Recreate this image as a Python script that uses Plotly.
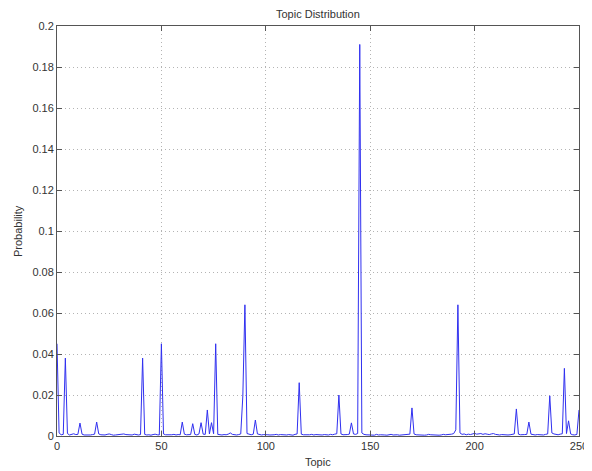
import plotly.graph_objects as go

topics = list(range(0, 251))
probability = [
    0.045, 0.0015, 0.0006, 0.0008, 0.038, 0.0012, 0.0005, 0.0009, 0.0011, 0.0007,
    0.0008, 0.0063, 0.0009, 0.0005, 0.0004, 0.0006, 0.0005, 0.0007, 0.0009, 0.0068,
    0.0010, 0.0006, 0.0004, 0.0005, 0.0008, 0.0010, 0.0007, 0.0004, 0.0005, 0.0006,
    0.0005, 0.0008, 0.0010, 0.0007, 0.0006, 0.0004, 0.0005, 0.0009, 0.0006, 0.0005,
    0.0007, 0.038, 0.0008, 0.0005, 0.0006, 0.0004, 0.0007, 0.0009, 0.0006, 0.0005,
    0.045, 0.0010, 0.0006, 0.0005, 0.0004, 0.0006, 0.0008, 0.0005, 0.0007, 0.0006,
    0.0068, 0.0009, 0.0006, 0.0005, 0.0007, 0.0060, 0.0008, 0.0005, 0.0010, 0.0065,
    0.0009, 0.0008, 0.0127, 0.0010, 0.0065, 0.0011, 0.045, 0.0008, 0.0006, 0.0005,
    0.0007, 0.0006, 0.0009, 0.0015, 0.0008, 0.0006, 0.0005, 0.0007, 0.0010, 0.0195,
    0.064, 0.0012, 0.0007, 0.0006, 0.0009, 0.0078, 0.0010, 0.0006, 0.0005, 0.0007,
    0.0008, 0.0006, 0.0005, 0.0004, 0.0006, 0.0008, 0.0005, 0.0007, 0.0006, 0.0004,
    0.0005, 0.0007, 0.0006, 0.0004, 0.0008, 0.0010, 0.026, 0.0009, 0.0006, 0.0005,
    0.0004, 0.0006, 0.0008, 0.0005, 0.0007, 0.0006, 0.0004, 0.0005, 0.0007, 0.0006,
    0.0005, 0.0008, 0.0006, 0.0009, 0.0011, 0.020, 0.0010, 0.0006, 0.0005, 0.0007,
    0.0009, 0.0064, 0.0010, 0.0008, 0.0012, 0.191, 0.0015, 0.0008, 0.0006, 0.0005,
    0.0007, 0.0006, 0.0004, 0.0008, 0.0005, 0.0006, 0.0007, 0.0005, 0.0004, 0.0006,
    0.0008, 0.0005, 0.0007, 0.0006, 0.0004, 0.0005, 0.0007, 0.0006, 0.0008, 0.0009,
    0.0137, 0.0010, 0.0006, 0.0005, 0.0007, 0.0006, 0.0004, 0.0005, 0.0008, 0.0006,
    0.0005, 0.0007, 0.0006, 0.0004, 0.0005, 0.0008, 0.0006, 0.0007, 0.0005, 0.0009,
    0.0012, 0.0030, 0.064, 0.0015, 0.0008, 0.0010, 0.0006, 0.0009, 0.0007, 0.0011,
    0.0013, 0.0009, 0.0010, 0.0012, 0.0008, 0.0011, 0.0009, 0.0007, 0.0010, 0.0012,
    0.0008, 0.0006, 0.0005, 0.0007, 0.0006, 0.0004, 0.0005, 0.0006, 0.0008, 0.0010,
    0.0132, 0.0009, 0.0006, 0.0005, 0.0007, 0.0008, 0.0068, 0.0009, 0.0006, 0.0005,
    0.0007, 0.0006, 0.0004, 0.0005, 0.0008, 0.0010, 0.0196, 0.0015, 0.0010, 0.0008,
    0.0006, 0.0009, 0.0011, 0.033, 0.0012, 0.0074, 0.0010, 0.0006, 0.0005, 0.0008,
    0.0127,
]

x_tickvals = [0, 50, 100, 150, 200, 250]
y_tickvals = [0, 0.02, 0.04, 0.06, 0.08, 0.1, 0.12, 0.14, 0.16, 0.18, 0.2]
y_ticktext = ["0", "0.02", "0.04", "0.06", "0.08", "0.1", "0.12", "0.14", "0.16", "0.18", "0.2"]

fig = go.Figure()
fig.add_trace(go.Scatter(
    x=topics, y=probability, mode="lines",
    line=dict(color="#3030f0", width=1),
    showlegend=False,
))

font_family = "Liberation Sans, Arial, sans-serif"
text_color = "#333333"
axis_common = dict(
    showline=True, linecolor="#555555", linewidth=1, mirror="ticks",
    ticks="inside", ticklen=5, tickcolor="#555555",
    showgrid=True, gridcolor="#b4b4b4", griddash="1px,3px", gridwidth=1,
    zeroline=False, automargin=False,
    tickfont=dict(family=font_family, size=11, color=text_color),
)

# the page body adds an 8px offset, so the figure is sized to fit the window
W, H = 584, 463
L, R, T, B = 49, 13, 18, 35

fig.update_layout(
    width=W, height=H,
    margin=dict(l=L, r=R, t=T, b=B),
    paper_bgcolor="white", plot_bgcolor="white",
    xaxis=dict(range=[0, 250], tickvals=x_tickvals, **axis_common),
    yaxis=dict(range=[0, 0.2], tickvals=y_tickvals, ticktext=y_ticktext, **axis_common),
    annotations=[
        dict(text="Topic Distribution", xref="paper", yref="paper", x=0.5, y=1,
             yshift=12, xanchor="center", yanchor="middle", showarrow=False,
             font=dict(family=font_family, size=11, color=text_color)),
        dict(text="Topic", xref="paper", yref="paper", x=0.5, y=0,
             yshift=-26, xanchor="center", yanchor="middle", showarrow=False,
             font=dict(family=font_family, size=11, color=text_color)),
        dict(text="Probability", xref="paper", yref="paper", x=0, y=0.5,
             xshift=-39, xanchor="center", yanchor="middle", showarrow=False,
             textangle=-90,
             font=dict(family=font_family, size=11, color=text_color)),
    ],
)

fig.write_html("out.html")
